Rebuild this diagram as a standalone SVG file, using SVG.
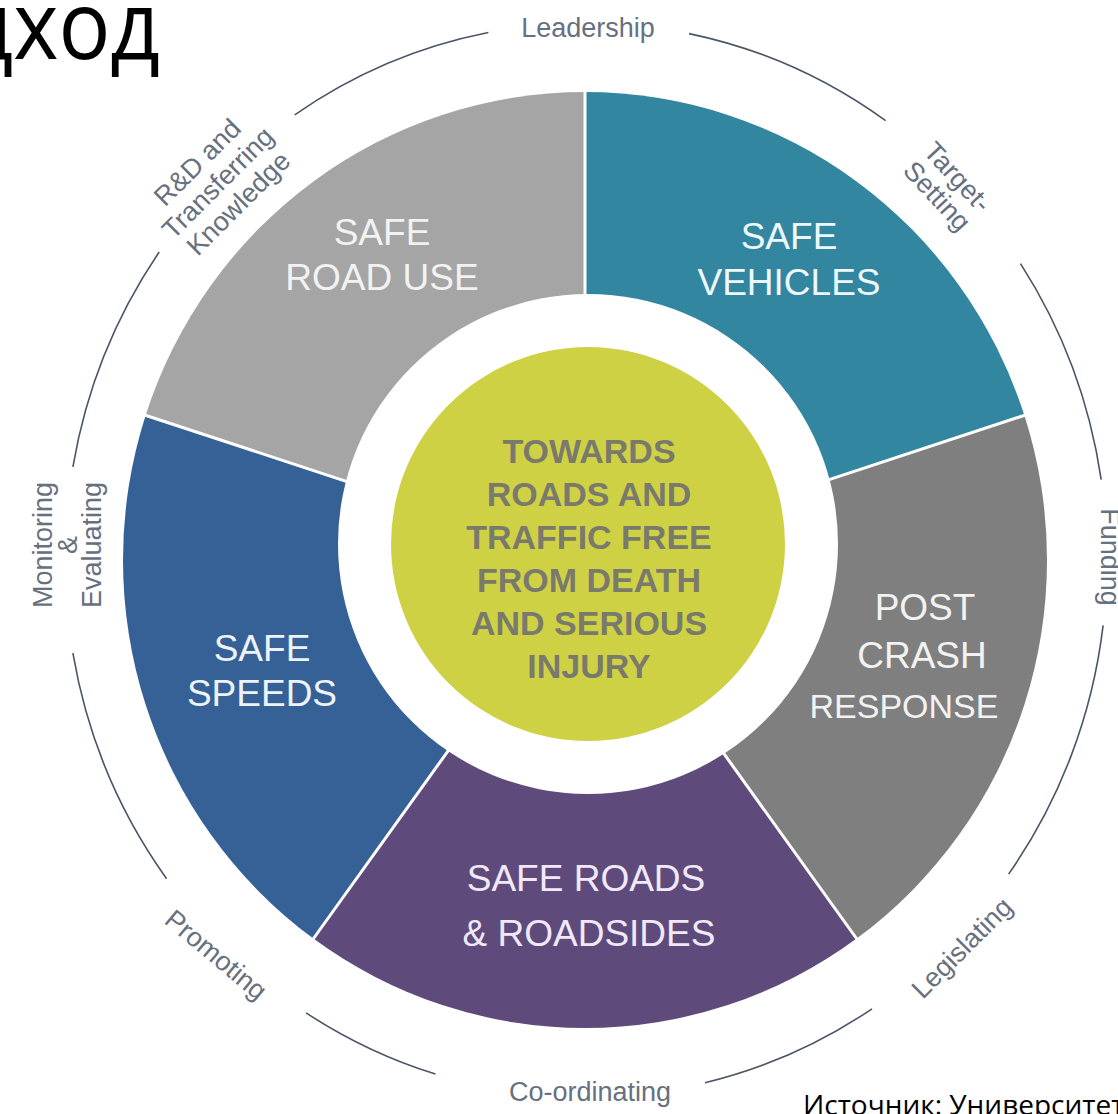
<svg xmlns="http://www.w3.org/2000/svg" width="1118" height="1114" viewBox="0 0 1118 1114">
<style>
.seg{font-family:"Liberation Sans",Arial,sans-serif;font-size:37px;text-anchor:middle}
.ctr{font-family:"Liberation Sans",Arial,sans-serif;font-size:34px;font-weight:bold;fill:#797a6c;text-anchor:middle}
.lbl{font-family:"Liberation Sans",Arial,sans-serif;font-size:27px;fill:#66707f;text-anchor:middle}
.arc{fill:none;stroke:#4a5566;stroke-width:1.6}
.div{stroke:#ffffff;stroke-width:3}
</style>
<rect width="1118" height="1114" fill="#ffffff"/>
<text transform="translate(160 59) scale(0.9 1)" x="0" y="0" font-family="'Open Sans','Noto Sans',sans-serif" font-size="96" fill="#000" text-anchor="end">дход</text>

<g id="safe-road-use">
<path d="M585 560 L145.6 415.4 A462 468 0 0 1 585 92 Z" fill="#a5a5a5"/>
<text class="seg" fill="#f2f2f2"><tspan x="382" y="245">SAFE</tspan><tspan x="382" y="290">ROAD USE</tspan></text>
</g>
<g id="safe-vehicles">
<path d="M585 560 L585 92 A462 468 0 0 1 1024.4 415.4 Z" fill="#33869f"/>
<text class="seg" fill="#eef8fc"><tspan x="789" y="249">SAFE</tspan><tspan x="789" y="295">VEHICLES</tspan></text>
</g>
<g id="post-crash-response">
<path d="M585 560 L1024.4 415.4 A462 468 0 0 1 856.6 938.6 Z" fill="#7f7f7f"/>
<text class="seg" fill="#f2f2f2"><tspan x="925" y="620">POST</tspan><tspan x="922" y="668">CRASH</tspan><tspan x="904" y="718" font-size="34">RESPONSE</tspan></text>
</g>
<g id="safe-roads-roadsides">
<path d="M585 560 L856.6 938.6 A462 468 0 0 1 313.4 938.6 Z" fill="#5e4b7c"/>
<text class="seg" fill="#f1e8f8"><tspan x="586" y="891">SAFE ROADS</tspan><tspan x="589" y="946">&amp; ROADSIDES</tspan></text>
</g>
<g id="safe-speeds">
<path d="M585 560 L313.4 938.6 A462 468 0 0 1 145.6 415.4 Z" fill="#356196"/>
<text class="seg" fill="#eef3fa"><tspan x="262" y="661">SAFE</tspan><tspan x="262" y="706">SPEEDS</tspan></text>
</g>

<g id="dividers">
<line class="div" x1="585" y1="560" x2="585" y2="88"/>
<line class="div" x1="585" y1="560" x2="1030" y2="413.5"/>
<line class="div" x1="585" y1="560" x2="859" y2="942"/>
<line class="div" x1="585" y1="560" x2="311" y2="942"/>
<line class="div" x1="585" y1="560" x2="140" y2="413.5"/>
</g>

<g id="center">
<circle cx="588" cy="544" r="250" fill="#ffffff"/>
<circle cx="588" cy="544" r="197" fill="#cfd145"/>
<text class="ctr"><tspan x="589" y="463">TOWARDS</tspan><tspan x="589" y="506">ROADS AND</tspan><tspan x="589" y="549">TRAFFIC FREE</tspan><tspan x="589" y="592">FROM DEATH</tspan><tspan x="589" y="635">AND SERIOUS</tspan><tspan x="589" y="678">INJURY</tspan></text>
</g>

<g id="connectors">
<path class="arc" d="M294.7 114.8 A521 537 0 0 1 488.4 32.5"/>
<path class="arc" d="M689 33.6 A521 537 0 0 1 885.6 120.7"/>
<path class="arc" d="M1020.5 263.6 A521 537 0 0 1 1101.2 479.7"/>
<path class="arc" d="M1103.1 625.4 A521 537 0 0 1 1008.6 874.1"/>
<path class="arc" d="M872 1008.8 A521 537 0 0 1 705 1082.8"/>
<path class="arc" d="M435.4 1074.1 A521 537 0 0 1 306.1 1012.9"/>
<path class="arc" d="M166.6 878.7 A521 537 0 0 1 72.9 653.2"/>
<path class="arc" d="M72.9 466.8 A521 537 0 0 1 159.2 252"/>
</g>

<g id="label-leadership"><text class="lbl" x="588" y="37" font-size="28">Leadership</text></g>
<g id="label-target-setting"><text class="lbl" transform="translate(948 186) rotate(47)"><tspan x="0" y="-4">Target-</tspan><tspan x="0" y="24">Setting</tspan></text></g>
<g id="label-funding"><text class="lbl" transform="translate(1101 557) rotate(90)" x="0" y="0" font-size="28">Funding</text></g>
<g id="label-legislating"><text class="lbl" transform="translate(962 948) rotate(-45)" x="0" y="9">Legislating</text></g>
<g id="label-coordinating"><text class="lbl" x="590" y="1101">Co-ordinating</text></g>
<g id="label-promoting"><text class="lbl" transform="translate(216 955) rotate(40)" x="0" y="9">Promoting</text></g>
<g id="label-monitoring"><text class="lbl" transform="translate(66 545) rotate(-90)" font-size="29"><tspan x="0" y="-14">Monitoring</tspan><tspan x="0" y="11">&amp;</tspan><tspan x="0" y="35">Evaluating</tspan></text></g>
<g id="label-rd"><text class="lbl" transform="translate(218 183) rotate(-45)"><tspan x="0" y="-20">R&amp;D and</tspan><tspan x="0" y="9">Transferring</tspan><tspan x="0" y="38">Knowledge</tspan></text></g>

<text x="803" y="1115" font-family="'Open Sans','Noto Sans',sans-serif" font-size="28" fill="#000">Источник: Университет</text>
</svg>
